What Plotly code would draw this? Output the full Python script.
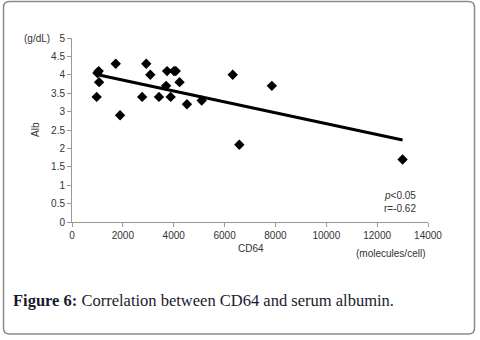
import plotly.graph_objects as go

cd64 = [970, 1050, 1000, 1065, 1720, 1890, 2760, 2920, 3080, 3420, 3700, 3740, 3880, 4010, 4080, 4230, 4520, 5100, 6320, 6580, 7860, 13000]
alb = [3.4, 4.1, 4.05, 3.8, 4.3, 2.9, 3.4, 4.3, 4.0, 3.4, 3.7, 4.1, 3.4, 4.1, 4.1, 3.8, 3.2, 3.3, 4.0, 2.1, 3.7, 1.7]
trend_x = [970, 13000]
trend_y = [4.01, 2.23]
x_ticks = [0, 2000, 4000, 6000, 8000, 10000, 12000, 14000]
y_ticks = [0, 0.5, 1, 1.5, 2, 2.5, 3, 3.5, 4, 4.5, 5]

W, H = 480, 340
# plot area in page pixels: x 72..428, y 38..222
PL, PR, PT, PB = 72, 428, 38, 222
L, T = PL, PT
pw, ph = PR - PL, PB - PT
R, B = W - L - pw, H - T - ph

def px(x):
    return (x - PL) / pw

def py(y):
    return (PB - y) / ph

fig = go.Figure()
fig.add_trace(go.Scatter(x=trend_x, y=trend_y, mode="lines",
                         line=dict(color="black", width=3), showlegend=False))
fig.add_trace(go.Scatter(x=cd64, y=alb, mode="markers",
                         marker=dict(symbol="diamond", size=8, color="black"),
                         showlegend=False))

axis_font = dict(family="Liberation Sans, Arial, sans-serif", size=10, color="#333")
fig.update_xaxes(range=[0, 14000], tickvals=x_ticks, ticktext=[str(v) for v in x_ticks],
                 showgrid=False, zeroline=False, showline=True, linecolor="#999",
                 linewidth=1, ticks="outside", ticklen=4, tickcolor="#999",
                 tickfont=axis_font)
fig.update_yaxes(range=[0, 5], tickvals=y_ticks, ticktext=[f"{v:g}" for v in y_ticks],
                 showgrid=False, zeroline=False, showline=True, linecolor="#999",
                 linewidth=1, ticks="outside", ticklen=4, tickcolor="#999",
                 tickfont=axis_font)

# rounded border (page pixels 3..474, 1.5..334)
x0, x1, y0, y1 = px(3.5), px(474.5), py(334), py(1.5)
rx, ry = 6 / pw, 6 / ph
path = (f"M {x0+rx},{y1} L {x1-rx},{y1} Q {x1},{y1} {x1},{y1-ry} "
        f"L {x1},{y0+ry} Q {x1},{y0} {x1-rx},{y0} L {x0+rx},{y0} "
        f"Q {x0},{y0} {x0},{y0+ry} L {x0},{y1-ry} Q {x0},{y1} {x0+rx},{y1} Z")
shapes = [dict(type="path", xref="paper", yref="paper", path=path,
               line=dict(color="#8a8a8a", width=1.5))]

ann_font = dict(family="Liberation Sans, Arial, sans-serif", size=10, color="#333")
annotations = [
    dict(text="(g/dL)", x=px(37), y=py(38), xref="paper", yref="paper",
         showarrow=False, font=ann_font, xanchor="center", yanchor="middle"),
    dict(text="Alb", x=px(35), y=py(130), xref="paper", yref="paper",
         showarrow=False, font=ann_font, textangle=-90, xanchor="center", yanchor="middle"),
    dict(text="CD64", x=px(251), y=py(248), xref="paper", yref="paper",
         showarrow=False, font=ann_font, xanchor="center", yanchor="middle"),
    dict(text="(molecules/cell)", x=px(390), y=py(254), xref="paper", yref="paper",
         showarrow=False, font=ann_font, xanchor="center", yanchor="middle"),
    dict(text="<i>p</i><0.05", x=px(382), y=py(195), xref="paper", yref="paper",
         showarrow=False, font=ann_font, xanchor="left", yanchor="middle"),
    dict(text="r=-0.62", x=px(382), y=py(208), xref="paper", yref="paper",
         showarrow=False, font=ann_font, xanchor="left", yanchor="middle"),
    dict(text="<b>Figure 6:</b> Correlation between CD64 and serum albumin.",
         x=px(11), y=py(300), xref="paper", yref="paper", showarrow=False,
         font=dict(family="Liberation Serif, Times New Roman, serif", size=16.5, color="#1a1a2e"),
         xanchor="left", yanchor="middle"),
]

fig.update_layout(width=W, height=H, margin=dict(l=L, r=R, t=T, b=B),
                  paper_bgcolor="white", plot_bgcolor="white",
                  shapes=shapes, annotations=annotations)
fig.write_html("out.html", config={"displayModeBar": False},
               post_script="document.body.style.margin='0';document.body.style.padding='0';")
